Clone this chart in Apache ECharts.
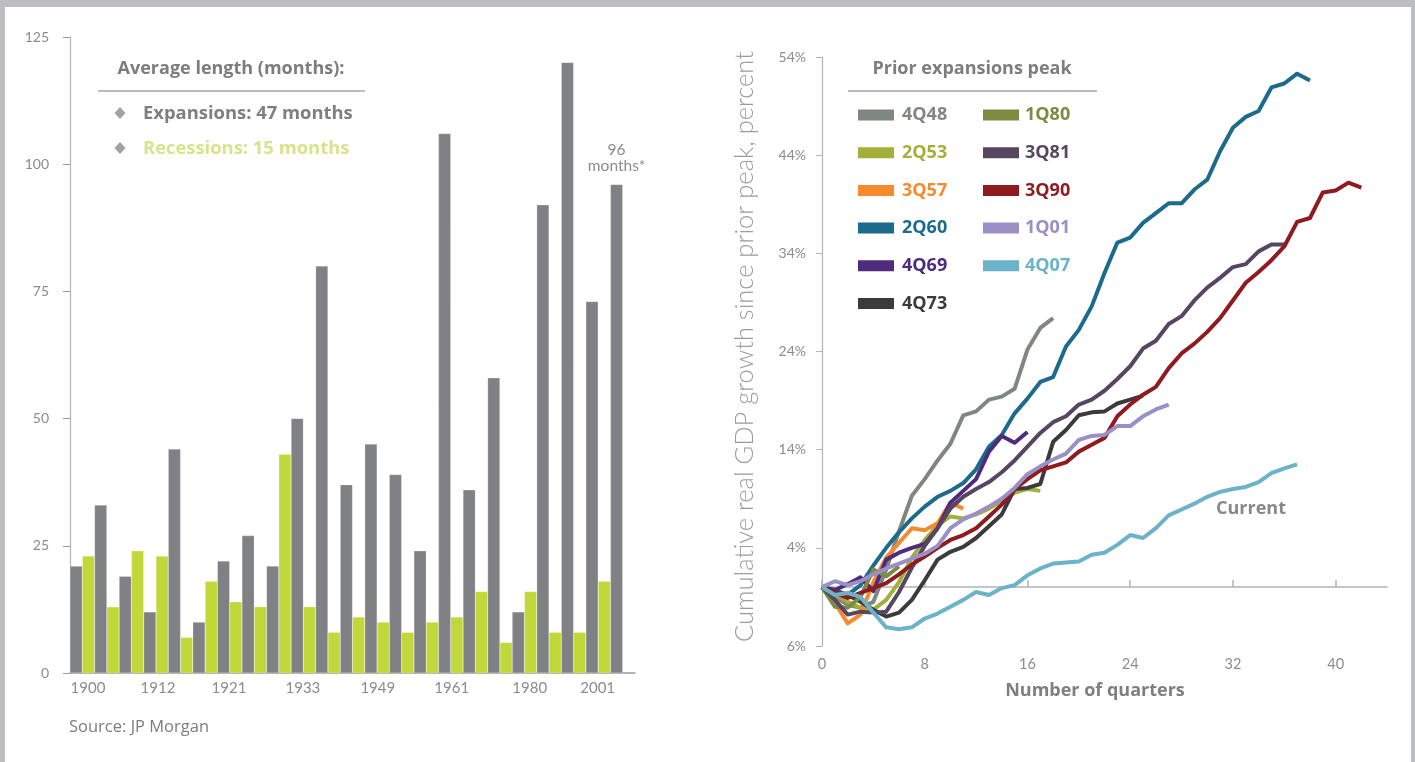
<!DOCTYPE html>
<html>
<head>
<meta charset="utf-8">
<title>Business cycles: expansions, recessions and cumulative GDP growth</title>
<script src="https://cdn.jsdelivr.net/npm/echarts@6/dist/echarts.min.js"></script>
<style>
  html, body { margin: 0; padding: 0; background: #bdbec0; }
  #panel { position: absolute; left: 5px; top: 7px; width: 1406px; height: 755px; background: #ffffff; }
  #chart { position: absolute; left: 0; top: 0; width: 1415px; height: 762px; }
</style>
</head>
<body>
<div id="panel"></div>
<div id="chart"></div>
<script>
// ---- Left panel: length of US expansions and recessions (months), in chronological order ----
const expansions = [21, 33, 19, 12, 44, 10, 22, 27, 21, 50, 80, 37, 45, 39, 24, 106, 36, 58, 12, 92, 120, 73, 96];
const recessions = [23, 13, 24, 23, 7, 18, 14, 13, 43, 13, 8, 11, 10, 8, 10, 11, 16, 6, 16, 8, 8, 18];
const yearTicks = ['1900', '1912', '1921', '1933', '1949', '1961', '1980', '2001'];
const yearTickPos = [1.46, 7.16, 12.94, 18.96, 25.06, 31.08, 37.43, 42.96];
const avgExpansion = 47;
const avgRecession = 15;

// ---- Right panel: cumulative real GDP growth since each prior expansion peak (%), by quarter ----
const s4Q48 = [0, -1.0, -1.8, -2.1, -1.5, 1.8, 5.7, 9.3, 11.0, 12.9, 14.6, 17.5, 17.9, 19.1, 19.4, 20.2, 24.2, 26.4, 27.4];
const s2Q53 = [0, -0.7, -1.5, -2.1, -2.3, -1.3, 0.5, 3.0, 4.8, 6.3, 7.2, 7.0, 7.4, 8.0, 8.8, 9.6, 10.0, 9.8];
const s3Q57 = [0, -1.6, -3.7, -2.8, 0.5, 3.0, 4.5, 6.0, 5.8, 6.5, 8.6, 8.0];
const s2Q60 = [0, -0.3, -0.8, 0.2, 2.2, 4.0, 5.6, 7.0, 8.2, 9.2, 9.8, 10.6, 12.0, 14.3, 15.5, 17.7, 19.2, 20.9, 21.4, 24.5,
               26.2, 28.6, 32.0, 35.1, 35.6, 37.1, 38.1, 39.1, 39.1, 40.5, 41.5, 44.4, 46.8, 47.9, 48.5, 50.9, 51.3, 52.3, 51.6];
const s4Q69 = [0, -0.3, 0.3, 1.0, -0.4, 2.8, 3.5, 4.0, 4.4, 6.0, 8.6, 9.8, 11.0, 13.8, 15.4, 14.7, 15.8];
const s4Q73 = [0, -0.5, -0.8, -1.5, -2.3, -3.0, -2.6, -1.3, 0.7, 2.8, 3.6, 4.1, 5.0, 6.2, 7.4, 10.0, 10.1, 10.5, 14.8, 16.0,
               17.5, 17.8, 17.9, 18.7, 19.1, 19.5];
const s1Q80 = [0, -2.0, -2.1, -1.0, 1.8, 1.1, 2.1];
const s3Q81 = [0, -1.3, -2.8, -2.5, -2.6, -2.5, -0.5, 2.0, 4.2, 6.0, 8.0, 9.2, 10.0, 10.7, 11.7, 12.9, 14.3, 15.7, 16.8, 17.4,
               18.6, 19.1, 20.0, 21.2, 22.5, 24.3, 25.1, 26.8, 27.6, 29.2, 30.5, 31.5, 32.6, 32.9, 34.2, 34.9, 34.9];
const s3Q90 = [0, -0.6, -1.1, -0.6, -0.1, 0.4, 1.3, 2.3, 3.1, 4.0, 4.8, 5.3, 6.0, 7.2, 8.4, 10.0, 11.0, 11.9, 12.3, 12.7,
               13.8, 14.5, 15.2, 17.4, 18.6, 19.6, 20.4, 22.3, 23.8, 24.8, 26.0, 27.4, 29.2, 31.0, 32.1, 33.3, 34.7, 37.2, 37.6, 40.2,
               40.4, 41.2, 40.7];
const s1Q01 = [0, 0.6, 0.2, 0.6, 1.3, 1.9, 2.4, 2.9, 3.4, 4.2, 6.0, 6.9, 7.5, 8.2, 9.0, 10.1, 11.5, 12.3, 13.0, 13.6,
               15.0, 15.4, 15.5, 16.4, 16.4, 17.4, 18.1, 18.6];
const s4Q07 = [0, -0.8, -0.6, -1.0, -2.6, -4.1, -4.3, -4.1, -3.2, -2.7, -2.0, -1.3, -0.5, -0.8, -0.1, 0.2, 1.2, 1.9, 2.4, 2.5,
               2.6, 3.3, 3.5, 4.3, 5.3, 5.0, 6.0, 7.3, 7.9, 8.5, 9.2, 9.7, 10.0, 10.2, 10.7, 11.6, 12.1, 12.5];
const quarterTicks = [0, 8, 16, 24, 32, 40];
const growthTicks = [-6, 4, 14, 24, 34, 44, 54];
const growthTickLabels = ['6%', '4%', '14%', '24%', '34%', '44%', '54%'];

// ---- styling ----
const FONT = 'Lato, "Open Sans", "DejaVu Sans", sans-serif';
const HEAD_FONT = '"Open Sans", Lato, "DejaVu Sans", sans-serif';
const GREY_BAR = '#808184';
const GREEN_BAR = '#c1d83a';
const AXIS_GREY = '#b3b3b3';
const LABEL_GREY = '#8c8c8c';
const HEAD_GREY = '#7d7d7d';

const peaks = [
  { name: '4Q48', data: s4Q48, color: '#7f8880' },
  { name: '2Q53', data: s2Q53, color: '#a2b03a' },
  { name: '3Q57', data: s3Q57, color: '#f68a2c' },
  { name: '2Q60', data: s2Q60, color: '#1d6b8c' },
  { name: '4Q69', data: s4Q69, color: '#4e2b7d' },
  { name: '4Q73', data: s4Q73, color: '#3c3b3c' },
  { name: '1Q80', data: s1Q80, color: '#7d8a3f' },
  { name: '3Q81', data: s3Q81, color: '#574661' },
  { name: '3Q90', data: s3Q90, color: '#8f1b20' },
  { name: '1Q01', data: s1Q01, color: '#9a8fc7' },
  { name: '4Q07', data: s4Q07, color: '#6cb2c8' }
];
const colorOf = name => peaks.find(p => p.name === name).color;

// Interleave expansions and recessions into one chronological bar sequence
const barData = [];
for (let i = 0; i < expansions.length; i++) {
  const item = { value: expansions[i], itemStyle: { color: GREY_BAR } };
  if (i === expansions.length - 1) {
    item.label = {
      show: true, position: 'top', distance: 11,
      formatter: '{c}\nmonths*',
      fontFamily: FONT, fontSize: 15.5, lineHeight: 16, color: LABEL_GREY
    };
  }
  barData.push(item);
  if (i < recessions.length) barData.push({ value: recessions[i], itemStyle: { color: GREEN_BAR } });
}
barData.push('-'); // trailing empty slot at the end of the axis
const barCats = barData.map((_, i) => String(i));

const nearest = (arr, v) => {
  let best = 0;
  arr.forEach((a, i) => { if (Math.abs(a - v) < Math.abs(arr[best] - v)) best = i; });
  return best;
};

const lineSeries = peaks.map(p => ({
  name: p.name,
  type: 'line',
  xAxisIndex: 2,
  yAxisIndex: 1,
  data: p.data.map((v, q) => [q, v]),
  color: p.color,
  showSymbol: false,
  symbol: 'none',
  lineStyle: { width: 4, color: p.color, join: 'round', cap: 'butt' },
  emphasis: { disabled: true },
  animation: false
}));

const legendText = name => ({ name, textStyle: { color: colorOf(name) } });

const txt = (x, y, text, font, fill, align) => ({
  type: 'text', x, y, silent: true,
  style: { text, font, fill, textAlign: align || 'left', align: align || 'left', textVerticalAlign: 'middle', verticalAlign: 'middle' }
});

const option = {
  animation: false,
  textStyle: { fontFamily: FONT },
  grid: [
    { left: 70, right: 780, top: 37, bottom: 89 },
    { left: 822, right: 28, top: 57, bottom: 116 }
  ],
  xAxis: [
    {
      type: 'category', gridIndex: 0, data: barCats, boundaryGap: true,
      axisLine: { show: true, lineStyle: { color: '#9a9a9a', width: 1.5 } },
      axisTick: { show: false }, axisLabel: { show: false }, splitLine: { show: false }
    },
    {
      type: 'value', gridIndex: 0, min: 0, max: 46, position: 'bottom',
      axisLine: { show: false, onZero: false }, axisTick: { show: false }, splitLine: { show: false },
      axisLabel: {
        customValues: yearTickPos, margin: 8, fontSize: 15, color: LABEL_GREY, fontFamily: FONT,
        formatter: v => yearTicks[nearest(yearTickPos, v)]
      }
    },
    {
      type: 'value', gridIndex: 1, min: 0, max: 44,
      axisLine: { show: true, onZero: true, lineStyle: { color: AXIS_GREY, width: 1.5 } },
      axisTick: { show: true, inside: true, length: 7, customValues: quarterTicks, lineStyle: { color: AXIS_GREY, width: 1.5 } },
      axisLabel: { show: false }, splitLine: { show: false }
    },
    {
      type: 'value', gridIndex: 1, min: 0, max: 44, position: 'bottom',
      axisLine: { show: false, onZero: false }, axisTick: { show: false }, splitLine: { show: false },
      axisLabel: { customValues: quarterTicks, margin: 11, fontSize: 14.5, color: LABEL_GREY, fontFamily: FONT }
    }
  ],
  yAxis: [
    {
      type: 'value', gridIndex: 0, min: 0, max: 125, interval: 25,
      axisLine: { show: true, lineStyle: { color: AXIS_GREY, width: 1.2 } },
      axisTick: { show: true, length: 7, lineStyle: { color: '#9a9a9a' } },
      axisLabel: { margin: 21, fontSize: 14, color: LABEL_GREY, fontFamily: FONT },
      splitLine: { show: false }
    },
    {
      type: 'value', gridIndex: 1, min: -6, max: 54,
      axisLine: { show: true, onZero: false, lineStyle: { color: AXIS_GREY, width: 1.2 } },
      axisTick: { show: true, length: 6, customValues: growthTicks, lineStyle: { color: AXIS_GREY } },
      axisLabel: {
        customValues: growthTicks, margin: 16, fontSize: 14, color: LABEL_GREY, fontFamily: FONT,
        formatter: v => growthTickLabels[nearest(growthTicks, v)]
      },
      splitLine: { show: false },
      name: 'Cumulative real GDP growth since prior peak, percent',
      nameLocation: 'middle', nameRotate: 90, nameGap: 64,
      nameTextStyle: { fontSize: 25.5, fontWeight: 300, color: '#9c9c9c', fontFamily: FONT, padding: [0, 0, 0, 10] }
    }
  ],
  legend: [
    {
      show: true, orient: 'vertical', left: 853, top: 100, itemGap: 17.7,
      itemWidth: 36, itemHeight: 11, icon: 'rect', selectedMode: false,
      textStyle: { fontSize: 18, fontWeight: 'bold', lineHeight: 20, fontFamily: HEAD_FONT, padding: [0, 0, 0, 3] },
      data: ['4Q48', '2Q53', '3Q57', '2Q60', '4Q69', '4Q73'].map(legendText)
    },
    {
      show: true, orient: 'vertical', left: 978, top: 100, itemGap: 17.7,
      itemWidth: 36, itemHeight: 11, icon: 'rect', selectedMode: false,
      textStyle: { fontSize: 18, fontWeight: 'bold', lineHeight: 20, fontFamily: HEAD_FONT, padding: [0, 0, 0, 1] },
      data: ['1Q80', '3Q81', '3Q90', '1Q01', '4Q07'].map(legendText)
    }
  ],
  graphic: [
    // left legend block
    txt(231, 69, 'Average length (months):', 'bold 18px ' + HEAD_FONT, HEAD_GREY, 'center'),
    { type: 'line', silent: true, shape: { x1: 98, y1: 91, x2: 365, y2: 91 }, style: { stroke: '#7a7a7a', lineWidth: 1 } },
    { type: 'polygon', silent: true, shape: { points: [[120, 107], [125.5, 113], [120, 119], [114.5, 113]] }, style: { fill: '#a2a2a2' } },
    { type: 'polygon', silent: true, shape: { points: [[120, 142], [125.5, 148], [120, 154], [114.5, 148]] }, style: { fill: '#a2a2a2' } },
    txt(143, 114, 'Expansions: ' + avgExpansion + ' months', 'bold 18.4px ' + HEAD_FONT, '#7f7f7f'),
    txt(143, 149, 'Recessions: ' + avgRecession + ' months', 'bold 18.4px ' + HEAD_FONT, '#d5e58b'),
    txt(69, 727, 'Source: JP Morgan', '16.5px ' + HEAD_FONT, '#7d7d7d'),
    // right legend heading
    txt(972, 69, 'Prior expansions peak', 'bold 18px ' + HEAD_FONT, HEAD_GREY, 'center'),
    { type: 'line', silent: true, shape: { x1: 848, y1: 91, x2: 1097, y2: 91 }, style: { stroke: '#7a7a7a', lineWidth: 1 } },
    // right axis title and annotation
    txt(1095, 691, 'Number of quarters', 'bold 18px ' + HEAD_FONT, '#7f7f7f', 'center'),
    txt(1251, 509, 'Current', 'bold 18px ' + HEAD_FONT, '#888888', 'center')
  ],
  series: [
    {
      name: 'Length (months)', type: 'bar', xAxisIndex: 0, yAxisIndex: 0,
      data: barData, barCategoryGap: '0%',
      itemStyle: { borderColor: 'rgba(255,255,255,0.55)', borderWidth: 0.4 },
      emphasis: { disabled: true }, animation: false
    },
    ...lineSeries
  ]
};

const chart = echarts.init(document.getElementById('chart'), null, { renderer: 'canvas' });
chart.setOption(option);
</script>
</body>
</html>
